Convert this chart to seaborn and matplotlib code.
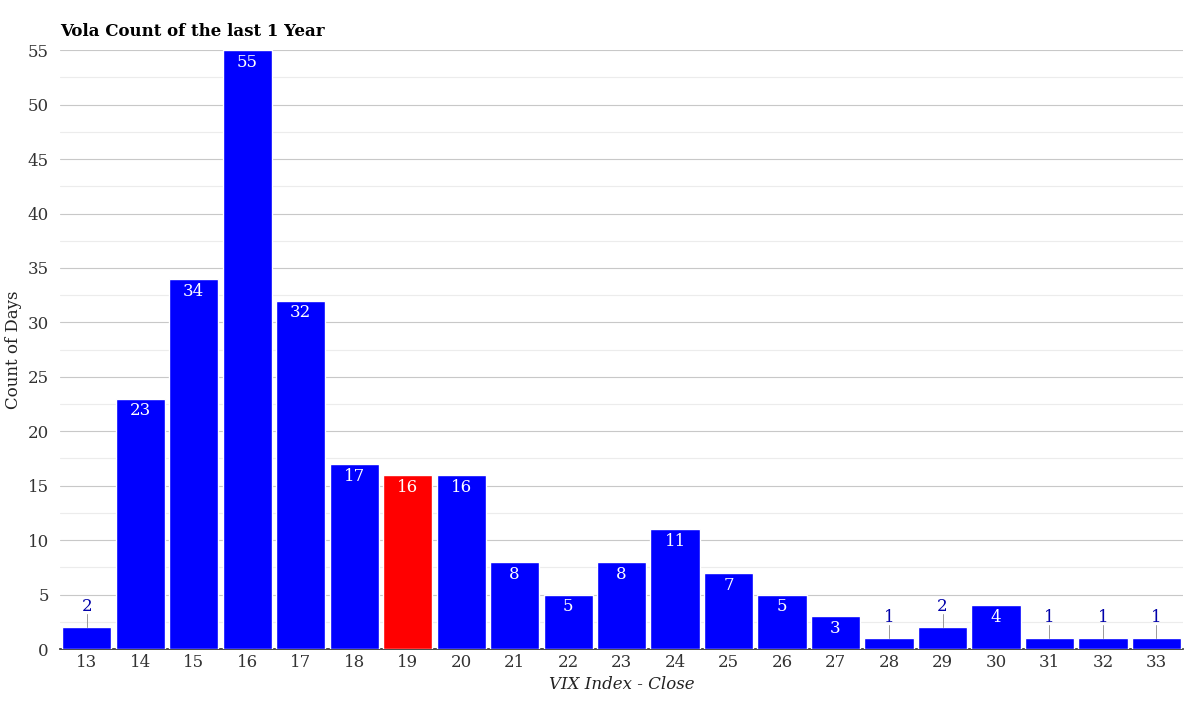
import matplotlib
matplotlib.use("Agg")
import matplotlib.pyplot as plt
import seaborn as sns
import pandas as pd
from matplotlib.ticker import MultipleLocator

categories = [str(c) for c in range(13, 34)]
counts = [2, 23, 34, 55, 32, 17, 16, 16, 8, 5, 8, 11, 7, 5, 3, 1, 2, 4, 1, 1, 1]
highlight = "19"

sns.set_theme(style="white")
plt.rcParams['font.family'] = ['DejaVu Serif']

df = pd.DataFrame({"cat": categories, "val": counts})
colors = ["#ff0000" if c == highlight else "#0000ff" for c in categories]

fig = plt.figure(figsize=(12, 7.07), dpi=100)
ax = fig.add_axes([0.05, 0.082, 0.936, 0.847])
sns.barplot(data=df, x="cat", y="val", hue="cat", palette=colors, legend=False,
            width=0.92, saturation=1, ax=ax, zorder=3)

ax.set_ylim(0, 55)
ax.set_xlim(-0.5, len(categories) - 0.5)
ax.yaxis.set_major_locator(MultipleLocator(5))
ax.yaxis.set_minor_locator(MultipleLocator(2.5))
ax.grid(axis="y", which="major", color="#c8c8c8", lw=0.8, zorder=0)
ax.grid(axis="y", which="minor", color="#ececec", lw=0.8, zorder=0)
for s in ["top", "right", "left"]:
    ax.spines[s].set_visible(False)
ax.spines["bottom"].set_color("#333333")
ax.tick_params(axis="both", labelsize=12, colors="#333333", length=0)
ax.tick_params(axis="y", pad=8)

for i, v in enumerate(counts):
    if v >= 3:
        ax.text(i, v - 0.35, str(v), ha="center", va="top", color="white", fontsize=12, zorder=5)
    else:
        ax.plot([i, i], [v, v + 1.2], color="#999999", lw=0.7, zorder=4)
        ax.text(i, v + 1.1, str(v), ha="center", va="bottom", color="#0000aa", fontsize=12, zorder=5)

ax.set_xlabel("VIX Index - Close", fontsize=12, style="italic", color="#222222")
ax.set_ylabel("Count of Days", fontsize=12, color="#222222")
fig.text(0.05, 0.955, "Vola Count of the last 1 Year", fontsize=12, fontweight="bold",
         ha="left", va="center", color="black")

fig.savefig("out.png", dpi=100)
